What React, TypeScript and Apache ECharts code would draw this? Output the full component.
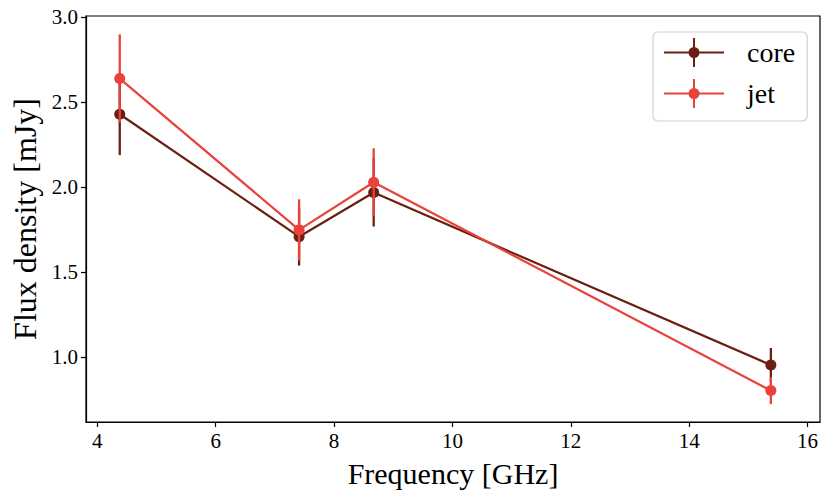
import React, { useEffect, useRef } from "react";
import * as echarts from "echarts";

const frequencies = [4.38, 7.41, 8.67, 15.38];
const coreFlux = [2.43, 1.71, 1.97, 0.955];
const coreErr = [0.24, 0.17, 0.2, 0.1];
const jetFlux = [2.64, 1.75, 2.03, 0.805];
const jetErr = [0.26, 0.18, 0.2, 0.08];
const xTicks = [4, 6, 8, 10, 12, 14, 16];
const yTicks = [1.0, 1.5, 2.0, 2.5, 3.0];
const seriesNames = ["core", "jet"];

const CORE = "#6a2010";
const JET = "#e8423a";
const FONT = "'Liberation Serif', 'DejaVu Serif', serif";

const legendIcon =
  "path://M0 13.5h60v2h-60Z M29 0h2v29h-2Z M35.5 14.5A5.5 5.5 0 1 1 24.5 14.5A5.5 5.5 0 1 1 35.5 14.5Z";

function errData(vals: number[], errs: number[]) {
  return frequencies.map((f, i) => [f, vals[i] - errs[i], vals[i] + errs[i]]);
}

function errSeries(name: string, vals: number[], errs: number[], color: string, z: number) {
  return {
    name,
    type: "custom",
    z,
    silent: true,
    encode: { x: 0, y: [1, 2] },
    data: errData(vals, errs),
    renderItem: (_params: any, api: any) => {
      const x = api.value(0);
      const p1 = api.coord([x, api.value(1)]);
      const p2 = api.coord([x, api.value(2)]);
      return {
        type: "line",
        shape: { x1: p1[0], y1: p1[1], x2: p2[0], y2: p2[1] },
        style: { stroke: color, lineWidth: 2.3 },
      };
    },
  };
}

function lineSeries(name: string, vals: number[], color: string, z: number) {
  return {
    name,
    type: "line",
    z,
    data: frequencies.map((f, i) => [f, vals[i]]),
    symbol: "circle",
    symbolSize: 11,
    showSymbol: true,
    lineStyle: { color, width: 2.2 },
    itemStyle: { color, borderWidth: 0 },
  };
}

export default function App() {
  const ref = useRef<HTMLDivElement>(null);
  useEffect(() => {
    if (!ref.current) return;
    const chart = echarts.init(ref.current, null, { renderer: "svg" });
    chart.setOption({
      animation: false,
      backgroundColor: "#ffffff",
      grid: {
        left: 86,
        right: 11,
        top: 16,
        bottom: 79,
        show: true,
        borderColor: "#000",
        borderWidth: 1.2,
        backgroundColor: "transparent",
      },
      legend: {
        data: seriesNames.map((n) => ({ name: n, icon: legendIcon })),
        orient: "vertical",
        left: 653,
        top: 32,
        itemWidth: 60,
        itemHeight: 29,
        itemGap: 12,
        padding: [6, 12, 13, 11],
        borderColor: "#d0d0d0",
        borderWidth: 1.2,
        borderRadius: 5,
        backgroundColor: "rgba(255,255,255,0.8)",
        itemStyle: { borderWidth: 0 },
        textStyle: {
          fontFamily: FONT,
          fontSize: 28,
          color: "#000",
          padding: [0, 0, 0, 18],
        },
      },
      xAxis: {
        type: "value",
        min: 3.81,
        max: 16.21,
        name: "Frequency [GHz]",
        nameLocation: "middle",
        nameGap: 36,
        nameTextStyle: { fontFamily: FONT, fontSize: 30, color: "#000" },
        axisLine: { show: true, lineStyle: { color: "#000", width: 1.2 } },
        axisTick: {
          show: true,
          length: 5,
          lineStyle: { color: "#000", width: 1.2 },
          customValues: xTicks,
        },
        axisLabel: {
          fontFamily: FONT,
          fontSize: 21,
          color: "#000",
          margin: 8,
          customValues: xTicks,
          formatter: (v: number) => String(v),
        },
        splitLine: { show: false },
      },
      yAxis: {
        type: "value",
        min: 0.62,
        max: 3.008,
        name: "Flux density [mJy]",
        nameLocation: "middle",
        nameGap: 45,
        nameTextStyle: { fontFamily: FONT, fontSize: 32, color: "#000" },
        axisLine: { show: true, lineStyle: { color: "#000", width: 1.2 } },
        axisTick: {
          show: true,
          length: 5,
          lineStyle: { color: "#000", width: 1.2 },
          customValues: yTicks,
        },
        axisLabel: {
          fontFamily: FONT,
          fontSize: 21,
          color: "#000",
          margin: 8,
          customValues: yTicks,
          formatter: (v: number) => v.toFixed(1),
        },
        splitLine: { show: false },
      },
      series: [
        errSeries("core err", coreFlux, coreErr, CORE, 2),
        lineSeries("core", coreFlux, CORE, 3),
        errSeries("jet err", jetFlux, jetErr, JET, 4),
        lineSeries("jet", jetFlux, JET, 5),
      ],
    });
    return () => chart.dispose();
  }, []);
  return (
    <div
      ref={ref}
      style={{ position: "fixed", left: 0, top: 0, width: 831, height: 501 }}
    />
  );
}
